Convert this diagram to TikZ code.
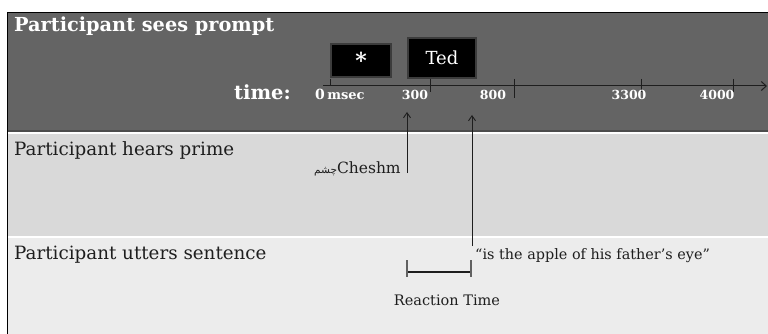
\documentclass[tikz,border=0pt]{standalone}
\usepackage{fontspec}
\setmainfont{DejaVu Serif}
\newfontfamily\arabicfont[Script=Arabic]{DejaVu Sans}
\TeXXeTstate=1
\usetikzlibrary{arrows.meta}
\definecolor{darkband}{RGB}{100,100,100}
\definecolor{midband}{RGB}{217,217,217}
\definecolor{lightband}{RGB}{236,236,236}
\definecolor{boxedge}{RGB}{60,60,60}
\definecolor{txt}{RGB}{30,30,30}
\tikzset{
  title/.style={anchor=base west, inner sep=0pt, font=\fontsize{18.3}{18}\selectfont},
  ticklabel/.style={anchor=base, inner sep=0pt, text=white, font=\bfseries\fontsize{12.5}{12}\selectfont},
  tickmark/.style={line width=1pt, draw=txt},
  stimbox/.style={fill=black, draw=boxedge, line width=2.2pt, text=white, inner sep=0pt},
  conn/.style={line width=0.9pt, draw=txt, -{Straight Barb[length=5pt,width=7pt]}},
}
\begin{document}
\begin{tikzpicture}[x=1pt,y=-1pt]
\useasboundingbox (0,0) rectangle (768,334);
% bands
\fill[white] (0,0) rectangle (768,334);
\fill[darkband] (7,12) rectangle (768,131);
\fill[black!70] (7,130) rectangle (768,132);
\fill[midband] (7,134) rectangle (768,236);
\fill[lightband] (7,238) rectangle (768,334);
\draw[black, line width=1.2pt] (7.5,334) -- (7.5,12.5) -- (768,12.5);
% titles
\node[title, text=white, font=\bfseries\fontsize{19.3}{19}\selectfont] (t1) at (14,32) {Participant sees prompt};
\node[title, text=txt] (t2) at (14,156) {Participant hears prime};
\node[title, text=txt] (t3) at (14,259) {Participant utters sentence};
% stimulus boxes
\node[stimbox, minimum width=60pt, minimum height=33pt] (star) at (361,60.5) {\bfseries\fontsize{22}{22}\selectfont *};
\node[stimbox, minimum width=68pt, minimum height=40pt] (ted) at (442,58) {\fontsize{18}{18}\selectfont Ted};
% time axis
\coordinate (a0) at (323,86);
\coordinate (a1) at (767,86);
\draw[line width=1pt, draw=txt, -{Straight Barb[length=5pt,width=9pt]}] (a0) -- (a1);
\draw[tickmark] (330,79) -- (330,86);
\draw[tickmark] (430,79) -- (430,92);
\draw[tickmark] (514,79) -- (514,98);
\draw[tickmark] (641,79) -- (641,92);
\draw[tickmark] (733,79) -- (733,92);
\node[anchor=base east, inner sep=0pt, text=white, font=\bfseries\fontsize{19.5}{19}\selectfont] (time) at (291,100) {time:};
\node[anchor=base west, inner sep=0pt, text=white, font=\bfseries\fontsize{14}{14}\selectfont] (l0) at (315,100) {0\,{\fontsize{13}{13}\selectfont msec}};
\node[ticklabel] (l300) at (415,100) {300};
\node[ticklabel] (l800) at (493,100) {800};
\node[ticklabel] (l3300) at (629,100) {3300};
\node[ticklabel] (l4000) at (717,100) {4000};
% prime
\node[anchor=base west, inner sep=0pt, text=txt, font=\fontsize{15.5}{16}\selectfont] (prime) at (314,173) {{\arabicfont\fontsize{10.5}{10}\selectfont\beginR چشم\endR}Cheshm};
\coordinate (p1) at (407,173);
\coordinate (p2) at (407,112);
\draw[conn] (p1) -- (p2);
% response
\node[anchor=base west, inner sep=0pt, text=txt, font=\fontsize{14.4}{15}\selectfont] (resp) at (475,259) {``is the apple of his father's eye''};
\coordinate (r1) at (472,246);
\coordinate (r2) at (472,115);
\draw[conn] (r1) -- (r2);
% reaction time bracket
\coordinate (b1) at (407,272);
\coordinate (b2) at (471,272);
\draw[line width=2.2pt, draw=txt] (b1) -- (b2);
\draw[line width=1.1pt, draw=txt!70] (407,260) -- (407,277);
\draw[line width=1.1pt, draw=txt!70] (471,260) -- (471,277);
\node[anchor=base, inner sep=0pt, text=txt, font=\fontsize{14.5}{15}\selectfont] (rt) at (447,305) {Reaction Time};
\end{tikzpicture}
\end{document}
